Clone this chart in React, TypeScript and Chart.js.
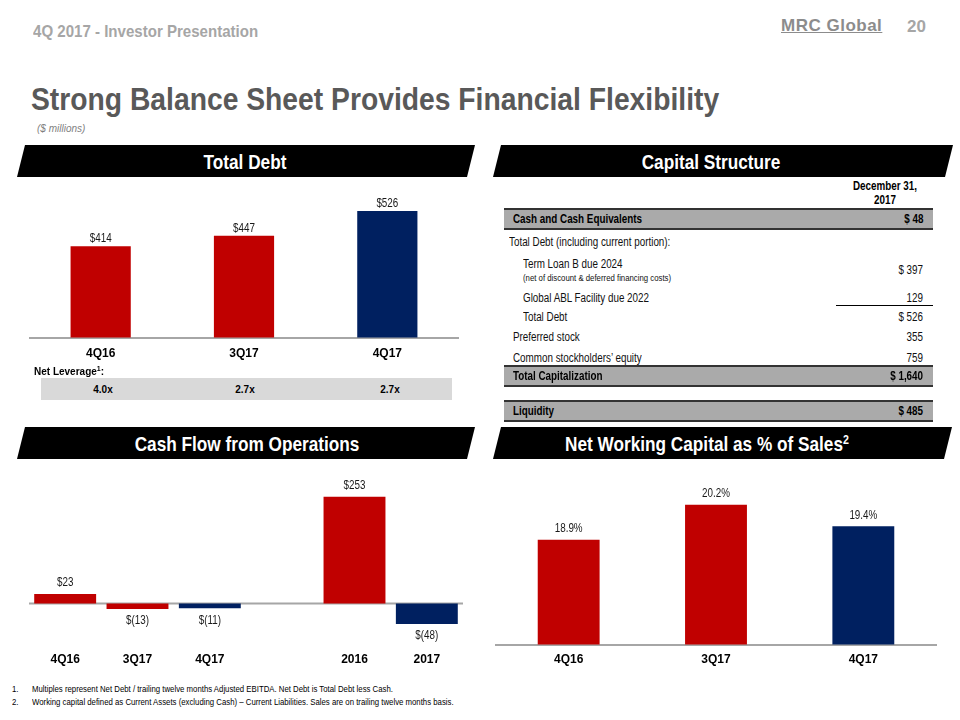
import React, { useEffect, useRef } from 'react';
import { Chart, registerables } from 'chart.js';

Chart.register(...registerables);

const ARIAL = '"Liberation Sans", Arial, sans-serif';
const NARROW_SCALE = 0.82;

const RED = '#C00000';
const NAVY = '#002060';

// Total Debt
const debtCategories = ['4Q16', '3Q17', '4Q17'];
const debtValues = [414, 447, 526];
const debtLabels = ['$414', '$447', '$526'];
const debtColors = [RED, RED, NAVY];
const leverageValues = ['4.0x', '2.7x', '2.7x'];

// Cash Flow from Operations
const cfoCategories = ['4Q16', '3Q17', '4Q17', '', '2016', '2017'];
const cfoValues: (number | null)[] = [23, -13, -11, null, 253, -48];
const cfoLabels = ['$23', '$(13)', '$(11)', '', '$253', '$(48)'];
const cfoColors = [RED, RED, NAVY, RED, RED, NAVY];

// Net Working Capital as % of Sales
const nwcCategories = ['4Q16', '3Q17', '4Q17'];
const nwcValues = [18.9, 20.2, 19.4];
const nwcLabels = ['18.9%', '20.2%', '19.4%'];
const nwcColors = [RED, RED, NAVY];

// Capital Structure table
const capItems = [
  'Cash and Cash Equivalents',
  'Total Debt (including current portion):',
  'Term Loan B due 2024',
  'Global ABL Facility due 2022',
  'Total Debt',
  'Preferred stock',
  'Common stockholders\u2019 equity',
  'Total Capitalization',
  'Liquidity',
];
const capAmounts = ['$ 48', '', '$ 397', '129', '$ 526', '355', '759', '$ 1,640', '$ 485'];
const capNote = '(net of discount & deferred financing costs)';

const footnotes = [
  'Multiples represent Net Debt / trailing twelve months Adjusted EBITDA. Net Debt is Total Debt less Cash.',
  'Working capital defined as Current Assets (excluding Cash) \u2013 Current Liabilities. Sales are on trailing twelve months basis.',
];

type BarProps = {
  categories: string[];
  values: (number | null)[];
  labels: string[];
  colors: string[];
  left: number;
  top: number;
  width: number;
  height: number;
  yMin: number;
  yMax: number;
  barPct: number;
  tickPad: number;
  offset: number;
  offsetNeg?: number;
  zeroLine?: boolean;
};

function BarChart(p: BarProps) {
  const ref = useRef<HTMLCanvasElement | null>(null);
  useEffect(() => {
    if (!ref.current) return;
    const labelPlugin = {
      id: 'valueLabels',
      beforeDatasetsDraw(chart: any) {
        if (!p.zeroLine) return;
        const { ctx, chartArea } = chart;
        const y = chart.scales.y.getPixelForValue(0);
        ctx.save();
        ctx.strokeStyle = '#a6a6a6';
        ctx.lineWidth = 2;
        ctx.beginPath();
        ctx.moveTo(chartArea.left, y);
        ctx.lineTo(chartArea.right, y);
        ctx.stroke();
        ctx.restore();
      },
      afterDatasetsDraw(chart: any) {
        const { ctx } = chart;
        const meta = chart.getDatasetMeta(0);
        meta.data.forEach((el: any, i: number) => {
          const v = p.values[i];
          if (v == null) return;
          const { x, y, base } = el.getProps(['x', 'y', 'base'], true);
          const ty = v < 0 ? Math.max(y, base) + (p.offsetNeg ?? p.offset) : Math.min(y, base) - p.offset;
          ctx.save();
          ctx.font = `12px ${ARIAL}`;
          ctx.fillStyle = '#1a1a1a';
          ctx.textAlign = 'center';
          ctx.textBaseline = 'middle';
          ctx.translate(x, ty);
          ctx.scale(NARROW_SCALE, 1);
          ctx.fillText(p.labels[i], 0, 0);
          ctx.restore();
        });
      },
    };
    const chart = new Chart(ref.current, {
      type: 'bar',
      data: {
        labels: p.categories,
        datasets: [
          {
            data: p.values as any,
            backgroundColor: p.colors,
            borderWidth: 0,
            barPercentage: p.barPct,
            categoryPercentage: 1,
          },
        ],
      },
      options: {
        animation: false,
        responsive: false,
        maintainAspectRatio: false,
        layout: { padding: 0 },
        plugins: { legend: { display: false }, tooltip: { enabled: false } },
        scales: {
          x: {
            grid: { display: false, drawTicks: false },
            border: { display: !p.zeroLine, color: '#a6a6a6', width: 2 },
            ticks: {
              color: '#000',
              font: { family: ARIAL, size: 12, weight: 'bold' },
              padding: p.tickPad,
              maxRotation: 0,
              autoSkip: false,
            },
          },
          y: { display: false, min: p.yMin, max: p.yMax },
        },
      },
      plugins: [labelPlugin],
    });
    return () => chart.destroy();
  }, []);
  return (
    <canvas
      ref={ref}
      width={p.width}
      height={p.height}
      style={{ position: 'absolute', left: p.left, top: p.top, width: p.width, height: p.height }}
    />
  );
}

function Banner({ x, y, w, tx, text, sup }: { x: number; y: number; w: number; tx: number; text: string; sup?: string }) {
  const h = 32;
  const s = 8;
  const pts = `${s},0 ${w},0 ${w - s},${h} 0,${h}`;
  return (
    <svg width={w} height={h} style={{ position: 'absolute', left: x, top: y, overflow: 'visible' }}>
      <polygon points={pts} fill="#000" />
      <text
        transform={`translate(${tx - x},${h / 2 + 7.5}) scale(${NARROW_SCALE},1)`}
        x={0}
        y={0}
        textAnchor="middle"
        fill="#fff"
        style={{ font: `bold 21px ${ARIAL}` }}
      >
        {text}
        {sup ? (
          <tspan dy={-7} style={{ fontSize: 13 }}>
            {sup}
          </tspan>
        ) : null}
      </text>
    </svg>
  );
}

const abs = (o: React.CSSProperties): React.CSSProperties => ({ position: 'absolute', whiteSpace: 'nowrap', ...o });
const narrowL: React.CSSProperties = { transform: `scaleX(${NARROW_SCALE})`, transformOrigin: 'left center' };
const narrowR: React.CSSProperties = { transform: `scaleX(${NARROW_SCALE})`, transformOrigin: 'right center' };

function Band({ top, label, value }: { top: number; label: string; value: string }) {
  return (
    <div
      style={abs({
        left: 504,
        top,
        width: 429,
        height: 18,
        background: '#aaaaaa',
        borderTop: '2px solid #333',
        borderBottom: '2px solid #333',
        font: `bold 12px ${ARIAL}`,
        lineHeight: '19px',
        color: '#000',
      })}
    >
      <span style={{ position: 'absolute', left: 9, ...narrowL }}>{label}</span>
      <span style={{ position: 'absolute', right: 10, ...narrowR }}>{value}</span>
    </div>
  );
}

function Row({ y, x, label, value }: { y: number; x: number; label: string; value: string }) {
  return (
    <>
      {label ? (
        <div style={abs({ left: x, top: y - 8, font: `12px ${ARIAL}`, lineHeight: '16px', color: '#111', ...narrowL })}>
          {label}
        </div>
      ) : null}
      {value ? (
        <div
          style={abs({ right: 960 - 923, top: y - 8, font: `12px ${ARIAL}`, lineHeight: '16px', color: '#111', ...narrowR })}
        >
          {value}
        </div>
      ) : null}
    </>
  );
}

export default function App() {
  return (
    <div
      style={{
        position: 'fixed',
        left: 0,
        top: 0,
        width: 960,
        height: 720,
        background: '#fff',
        overflow: 'hidden',
        fontFamily: ARIAL,
      }}
    >
      {/* header */}
      <div style={abs({ left: 33, top: 22, font: `bold 17px ${ARIAL}`, color: '#a6a6a6', transform: 'scaleX(0.886)', transformOrigin: 'left center' })}>
        4Q 2017 - Investor Presentation
      </div>
      <div
        style={abs({
          left: 781,
          top: 16,
          font: `bold 17px ${ARIAL}`,
          color: '#8c8c8c',
          textDecoration: 'underline',
          letterSpacing: 0.5,
        })}
      >
        MRC Global
      </div>
      <div style={abs({ left: 907, top: 17, font: `bold 17px ${ARIAL}`, color: '#a6a6a6' })}>20</div>

      <div style={abs({ left: 31, top: 82, font: `bold 31px ${ARIAL}`, color: '#595959', transform: 'scaleX(0.912)', transformOrigin: 'left center' })}>
        Strong Balance Sheet Provides Financial Flexibility
      </div>
      <div style={abs({ left: 37, top: 123, font: `italic 10px ${ARIAL}`, color: '#7f7f7f' })}>($ millions)</div>

      <Banner x={17} y={145} w={458} tx={245} text="Total Debt" />
      <Banner x={493} y={145} w={460} tx={711} text="Capital Structure" />
      <Banner x={17} y={427} w={458} tx={247} text="Cash Flow from Operations" />
      <Banner x={493} y={427} w={459} tx={707} text="Net Working Capital as % of Sales" sup="2" />

      {/* Total Debt chart */}
      <BarChart
        categories={debtCategories}
        values={debtValues}
        labels={debtLabels}
        colors={debtColors}
        left={29}
        top={181}
        width={430}
        height={189}
        yMin={124}
        yMax={621}
        barPct={0.42}
        tickPad={9}
        offset={7.5}
      />
      <div style={abs({ left: 34, top: 365, font: `bold 10px ${ARIAL}`, color: '#000' })}>
        Net Leverage<sup style={{ fontSize: 7 }}>1</sup>:
      </div>
      <div style={abs({ left: 41, top: 378, width: 411, height: 22, background: '#d9d9d9' })} />
      {leverageValues.map((v, i) => (
        <div
          key={i}
          style={abs({
            left: [103, 245, 390][i] - 30,
            width: 60,
            textAlign: 'center',
            top: 384,
            font: `bold 10px ${ARIAL}`,
            lineHeight: '12px',
            color: '#000',
          })}
        >
          {v}
        </div>
      ))}

      {/* Capital Structure table */}
      <div
        style={abs({
          left: 835,
          width: 100,
          top: 179,
          textAlign: 'center',
          font: `bold 12px ${ARIAL}`,
          lineHeight: '14px',
          color: '#000',
          transform: `scaleX(${NARROW_SCALE})`,
          transformOrigin: 'center center',
        })}
      >
        December 31,
        <br />
        2017
      </div>
      <Band top={208} label={capItems[0]} value={capAmounts[0]} />
      <Row y={242} x={509} label={capItems[1]} value={capAmounts[1]} />
      <Row y={264} x={523} label={capItems[2]} value="" />
      <div style={abs({ left: 523, top: 272, font: `9.5px ${ARIAL}`, lineHeight: '12px', color: '#111', ...narrowL })}>{capNote}</div>
      <Row y={270} x={0} label="" value={capAmounts[2]} />
      <Row y={298} x={523} label={capItems[3]} value={capAmounts[3]} />
      <div style={abs({ left: 836, top: 305, width: 97, height: 0, borderTop: '1.5px solid #000' })} />
      <Row y={317} x={523} label={capItems[4]} value={capAmounts[4]} />
      <Row y={337} x={513} label={capItems[5]} value={capAmounts[5]} />
      <Row y={358} x={513} label={capItems[6]} value={capAmounts[6]} />
      <Band top={365} label={capItems[7]} value={capAmounts[7]} />
      <Band top={400} label={capItems[8]} value={capAmounts[8]} />

      {/* Cash flow chart */}
      <BarChart
        categories={cfoCategories}
        values={cfoValues}
        labels={cfoLabels}
        colors={cfoColors}
        left={29}
        top={470}
        width={434}
        height={203}
        yMin={-101.7}
        yMax={316}
        barPct={0.856}
        tickPad={6}
        offset={11}
        offsetNeg={12}
        zeroLine
      />

      {/* NWC chart */}
      <BarChart
        categories={nwcCategories}
        values={nwcValues}
        labels={nwcLabels}
        colors={nwcColors}
        left={495}
        top={470}
        width={442}
        height={205}
        yMin={15}
        yMax={21.49}
        barPct={0.42}
        tickPad={8}
        offset={11}
      />

      {/* footnotes */}
      {footnotes.map((f, i) => (
        <React.Fragment key={i}>
          <div style={abs({ left: 12, top: 683 + i * 12.5, font: `9.5px ${ARIAL}`, lineHeight: '12px', color: '#000', ...narrowL })}>
            {i + 1}.
          </div>
          <div style={abs({ left: 32, top: 683 + i * 12.5, font: `9.5px ${ARIAL}`, lineHeight: '12px', color: '#000', ...narrowL })}>
            {f}
          </div>
        </React.Fragment>
      ))}
    </div>
  );
}
